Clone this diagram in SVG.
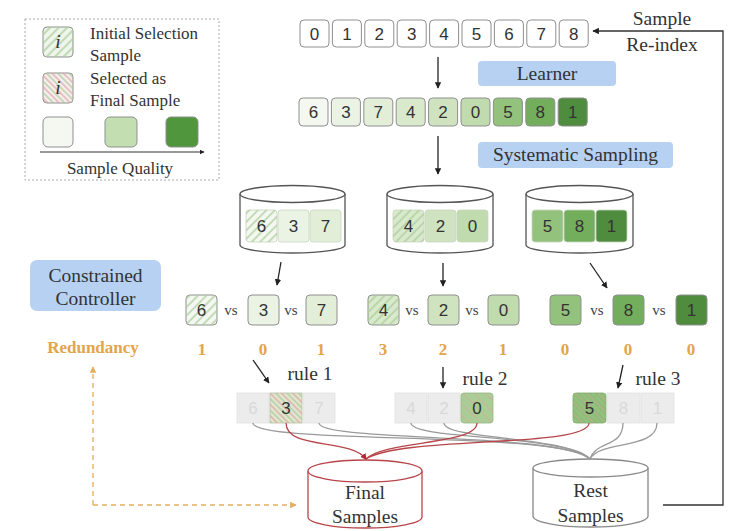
<svg xmlns="http://www.w3.org/2000/svg" width="734" height="531" viewBox="0 0 734 531">
<style>
.bg{fill:#ffffff}
.num{font-family:"Liberation Sans",Arial,sans-serif;font-size:17px;fill:#333;text-anchor:middle}
.lbl{font-family:"Liberation Serif","Times New Roman",serif;font-size:19.5px;fill:#333;text-anchor:middle}
.leg{font-family:"Liberation Serif","Times New Roman",serif;font-size:17px;fill:#333}
.vs{font-family:"Liberation Serif","Times New Roman",serif;font-size:15px;fill:#444;text-anchor:middle}
.red{font-family:"Liberation Serif","Times New Roman",serif;font-size:17px;font-weight:bold;fill:#e2a54a;text-anchor:middle}
.box{stroke:#8f8f8f;stroke-width:1}
.ibox{stroke:#c9d6c0;stroke-width:0.8}
.blue{fill:#b6d1f2}
.cyl{fill:#ffffff;stroke:#555;stroke-width:1.3}
.arr{stroke:#222;stroke-width:1.3;fill:none;marker-end:url(#ah)}
.fade{fill:#ececec;stroke:#e2e2e2;stroke-width:0.8}
.ftxt{font-family:"Liberation Sans",Arial,sans-serif;font-size:17px;fill:#d9d9d9;text-anchor:middle}
.rc{fill:none;stroke:#b8454a;stroke-width:1.3}
.gc{fill:none;stroke:#9a9a9a;stroke-width:1.3}
</style>
<defs>
<marker id="ah" viewBox="0 0 10 10" refX="9" refY="5" markerWidth="5" markerHeight="5" orient="auto"><path d="M0,0 L10,5 L0,10 z" fill="#222"/></marker>
<marker id="ahO" viewBox="0 0 10 10" refX="9" refY="5" markerWidth="5" markerHeight="5" orient="auto"><path d="M0,0 L10,5 L0,10 z" fill="#e5ad5c"/></marker>
<marker id="ahR" viewBox="0 0 10 10" refX="8" refY="5" markerWidth="5" markerHeight="5" orient="auto"><path d="M0,0 L10,5 L0,10 z" fill="#b02a35"/></marker>
<pattern id="hG" patternUnits="userSpaceOnUse" width="6" height="6" patternTransform="rotate(45)"><line x1="1" y1="0" x2="1" y2="6" stroke="#a9cc98" stroke-width="1.3"/></pattern>
<pattern id="hR" patternUnits="userSpaceOnUse" width="8" height="8" patternTransform="rotate(-45)"><line x1="1" y1="0" x2="1" y2="8" stroke="#d9a3a3" stroke-width="1.2"/><line x1="5" y1="0" x2="5" y2="8" stroke="#a6c796" stroke-width="1.2"/></pattern>
</defs>
<rect class="bg" x="0" y="0" width="734" height="531"/>

<g id="legend">
<rect x="25" y="19" width="194" height="161" fill="none" stroke="#aaa" stroke-width="1" stroke-dasharray="2,2"/>
<rect x="43" y="27" width="30" height="30" rx="4" fill="#eef5ea" class="box"/>
<rect x="43" y="27" width="30" height="30" rx="4" fill="url(#hG)"/>
<text x="58" y="48" class="lbl" font-size="17" font-style="italic">i</text>
<text x="90" y="39" class="leg">Initial Selection</text>
<text x="90" y="61" class="leg">Sample</text>
<rect x="43" y="73" width="30" height="30" rx="4" fill="#f7eeee" class="box"/>
<rect x="43" y="73" width="30" height="30" rx="4" fill="url(#hR)"/>
<text x="58" y="94" class="lbl" font-size="17" font-style="italic">i</text>
<text x="90" y="84" class="leg">Selected as</text>
<text x="90" y="106" class="leg">Final Sample</text>
<rect x="43" y="117" width="30" height="30" rx="5" fill="#f4f8f1" class="box"/>
<rect x="105" y="117" width="32" height="30" rx="5" fill="#c3deb1" class="box"/>
<rect x="166" y="117" width="32" height="30" rx="5" fill="#4f963d" class="box"/>
<line x1="40" y1="152" x2="204" y2="152" stroke="#333" stroke-width="1" marker-end="url(#ah)"/>
<text x="120" y="174" class="leg" text-anchor="middle">Sample Quality</text>
</g>

<g id="row-index">
<rect x="300" y="20" width="29" height="27" rx="4" fill="#fff" class="box"/><text x="314.5" y="40" class="num">0</text>
<rect x="332.4" y="20" width="29" height="27" rx="4" fill="#fff" class="box"/><text x="346.9" y="40" class="num">1</text>
<rect x="364.8" y="20" width="29" height="27" rx="4" fill="#fff" class="box"/><text x="379.3" y="40" class="num">2</text>
<rect x="397.2" y="20" width="29" height="27" rx="4" fill="#fff" class="box"/><text x="411.7" y="40" class="num">3</text>
<rect x="429.6" y="20" width="29" height="27" rx="4" fill="#fff" class="box"/><text x="444.1" y="40" class="num">4</text>
<rect x="462" y="20" width="29" height="27" rx="4" fill="#fff" class="box"/><text x="476.5" y="40" class="num">5</text>
<rect x="494.4" y="20" width="29" height="27" rx="4" fill="#fff" class="box"/><text x="508.9" y="40" class="num">6</text>
<rect x="526.8" y="20" width="29" height="27" rx="4" fill="#fff" class="box"/><text x="541.3" y="40" class="num">7</text>
<rect x="559.2" y="20" width="29" height="27" rx="4" fill="#fff" class="box"/><text x="573.7" y="40" class="num">8</text>
</g>

<g id="learner">
<rect x="478" y="61" width="138" height="25" rx="4" class="blue"/>
<text x="547" y="80" class="lbl">Learner</text>
</g>

<g id="row-sorted">
<rect x="299" y="98" width="29" height="28" rx="4" fill="#f4f8f1" class="box"/><text x="313.5" y="118" class="num">6</text>
<rect x="331.4" y="98" width="29" height="28" rx="4" fill="#ebf3e4" class="box"/><text x="345.9" y="118" class="num">3</text>
<rect x="363.8" y="98" width="29" height="28" rx="4" fill="#e3eed9" class="box"/><text x="378.3" y="118" class="num">7</text>
<rect x="396.2" y="98" width="29" height="28" rx="4" fill="#d9e9cc" class="box"/><text x="410.7" y="118" class="num">4</text>
<rect x="428.6" y="98" width="29" height="28" rx="4" fill="#cfe3c0" class="box"/><text x="443.1" y="118" class="num">2</text>
<rect x="461" y="98" width="29" height="28" rx="4" fill="#c0dbad" class="box"/><text x="475.5" y="118" class="num">0</text>
<rect x="493.4" y="98" width="29" height="28" rx="4" fill="#93c27c" class="box"/><text x="507.9" y="118" class="num">5</text>
<rect x="525.8" y="98" width="29" height="28" rx="4" fill="#73ae5d" class="box"/><text x="540.3" y="118" class="num">8</text>
<rect x="558.2" y="98" width="29" height="28" rx="4" fill="#4f8c3d" class="box"/><text x="572.7" y="118" class="num" fill="#1f3a18">1</text>
</g>

<g id="systematic-sampling">
<rect x="478" y="142" width="195" height="26" rx="4" class="blue"/>
<text x="575.5" y="161" class="lbl" font-size="20">Systematic Sampling</text>
</g>

<g id="bucket-1">
<path class="cyl" d="M240,194 L240,245 A52.5,8 0 0 0 345,245 L345,194"/>
<ellipse class="cyl" cx="292.5" cy="194" rx="52.5" ry="8.5"/>
<rect x="246" y="210" width="31" height="32" rx="3" fill="#f4f8f1" class="ibox"/>
<rect x="246" y="210" width="31" height="32" rx="3" fill="url(#hG)"/>
<rect x="278" y="210" width="31" height="32" rx="3" fill="#ebf3e4" class="ibox"/>
<rect x="310" y="210" width="31" height="32" rx="3" fill="#e3eed9" class="ibox"/>
<text x="261.5" y="232" class="num">6</text><text x="293.5" y="232" class="num">3</text><text x="325.5" y="232" class="num">7</text>
</g>

<g id="bucket-2">
<path class="cyl" d="M387,194 L387,245 A53,8 0 0 0 493,245 L493,194"/>
<ellipse class="cyl" cx="440" cy="194" rx="53" ry="8.5"/>
<rect x="393" y="210" width="31" height="32" rx="3" fill="#d9e9cc" class="ibox"/>
<rect x="393" y="210" width="31" height="32" rx="3" fill="url(#hG)"/>
<rect x="425" y="210" width="31" height="32" rx="3" fill="#cfe3c0" class="ibox"/>
<rect x="457" y="210" width="31" height="32" rx="3" fill="#c0dbad" class="ibox"/>
<text x="408.5" y="232" class="num">4</text><text x="440.5" y="232" class="num">2</text><text x="472.5" y="232" class="num">0</text>
</g>

<g id="bucket-3">
<path class="cyl" d="M526,194 L526,245 A53.5,8 0 0 0 633,245 L633,194"/>
<ellipse class="cyl" cx="579.5" cy="194" rx="53.5" ry="8.5"/>
<rect x="532" y="210" width="31" height="32" rx="3" fill="#93c27c" class="ibox"/>
<rect x="564" y="210" width="31" height="32" rx="3" fill="#73ae5d" class="ibox"/>
<rect x="596" y="210" width="31" height="32" rx="3" fill="#4f8c3d" class="ibox"/>
<text x="547.5" y="232" class="num">5</text><text x="579.5" y="232" class="num">8</text><text x="611.5" y="232" class="num" fill="#1f3a18">1</text>
</g>

<g id="constrained-controller">
<rect x="30" y="260" width="131" height="51" rx="7" class="blue"/>
<text x="95.5" y="282" class="lbl" font-size="20">Constrained</text>
<text x="95.5" y="305" class="lbl" font-size="20">Controller</text>
</g>

<g id="compare-1">
<rect x="186" y="295" width="31" height="30" rx="4" fill="#f4f8f1" class="box"/>
<rect x="186" y="295" width="31" height="30" rx="4" fill="url(#hG)"/>
<text x="201.5" y="316" class="num">6</text>
<text x="231" y="315" class="vs">vs</text>
<rect x="248" y="295" width="31" height="30" rx="4" fill="#ebf3e4" class="box"/>
<text x="263.5" y="316" class="num">3</text>
<text x="291" y="315" class="vs">vs</text>
<rect x="306" y="295" width="31" height="30" rx="4" fill="#e3eed9" class="box"/>
<text x="321.5" y="316" class="num">7</text>
</g>
<g id="compare-2">
<rect x="368" y="295" width="31" height="30" rx="4" fill="#d9e9cc" class="box"/>
<rect x="368" y="295" width="31" height="30" rx="4" fill="url(#hG)"/>
<text x="383.5" y="316" class="num">4</text>
<text x="412" y="315" class="vs">vs</text>
<rect x="428" y="295" width="31" height="30" rx="4" fill="#cfe3c0" class="box"/>
<text x="443.5" y="316" class="num">2</text>
<text x="472" y="315" class="vs">vs</text>
<rect x="488" y="295" width="31" height="30" rx="4" fill="#c0dbad" class="box"/>
<text x="503.5" y="316" class="num">0</text>
</g>
<g id="compare-3">
<rect x="550" y="295" width="31" height="30" rx="4" fill="#93c27c" class="box"/>
<text x="565.5" y="316" class="num">5</text>
<text x="597" y="315" class="vs">vs</text>
<rect x="613" y="295" width="31" height="30" rx="4" fill="#73ae5d" class="box"/>
<text x="628.5" y="316" class="num">8</text>
<text x="659" y="315" class="vs">vs</text>
<rect x="676" y="295" width="31" height="30" rx="4" fill="#4f8c3d" class="box"/>
<text x="691.5" y="316" class="num" fill="#1f3a18">1</text>
</g>

<g id="redundancy">
<text x="93" y="353" class="red" font-size="20" fill="#d69a36">Redundancy</text>
<text x="202" y="355" class="red">1</text>
<text x="263" y="355" class="red">0</text>
<text x="321" y="355" class="red">1</text>
<text x="383" y="355" class="red">3</text>
<text x="443" y="355" class="red">2</text>
<text x="503" y="355" class="red">1</text>
<text x="565" y="355" class="red">0</text>
<text x="628" y="355" class="red">0</text>
<text x="691" y="355" class="red">0</text>
</g>

<g id="rule-labels">
<text x="310" y="380" class="lbl">rule 1</text>
<text x="485" y="385" class="lbl">rule 2</text>
<text x="658" y="385" class="lbl">rule 3</text>
</g>

<g id="selected-1">
<rect x="237" y="393" width="32" height="30" class="fade"/><text x="253" y="414" class="ftxt">6</text>
<rect x="270" y="393" width="32" height="30" fill="#e2e7cf" stroke="#b8bfa5" stroke-width="0.8"/>
<rect x="270" y="393" width="32" height="30" fill="url(#hR)"/>
<text x="286" y="414" class="num">3</text>
<rect x="303" y="393" width="32" height="30" class="fade"/><text x="319" y="414" class="ftxt">7</text>
</g>
<g id="selected-2">
<rect x="395" y="393" width="32" height="30" class="fade"/><text x="411" y="414" class="ftxt">4</text>
<rect x="428" y="393" width="32" height="30" class="fade"/><text x="444" y="414" class="ftxt">2</text>
<rect x="461" y="393" width="32" height="30" rx="3" fill="#a9cf94" stroke="#8fb57c" stroke-width="0.8"/>
<rect x="461" y="393" width="32" height="30" rx="3" fill="url(#hR)" opacity="0.7"/>
<text x="477" y="414" class="num">0</text>
</g>
<g id="selected-3">
<rect x="573" y="393" width="33" height="30" rx="3" fill="#8dbd76" stroke="#7aa866" stroke-width="0.8"/>
<rect x="573" y="393" width="33" height="30" rx="3" fill="url(#hR)" opacity="0.6"/>
<text x="589.5" y="414" class="num">5</text>
<rect x="607" y="393" width="33" height="30" class="fade"/><text x="623.5" y="414" class="ftxt">8</text>
<rect x="641" y="393" width="33" height="30" class="fade"/><text x="657.5" y="414" class="ftxt">1</text>
</g>

<g id="final-samples">
<path d="M308,471 L308,517 A57,11 0 0 0 422,517 L422,471" fill="#fff" stroke="#b8454a" stroke-width="1.3"/>
<ellipse cx="365" cy="471" rx="57" ry="11" fill="#fff" stroke="#b8454a" stroke-width="1.3"/>
<text x="365" y="499" class="lbl" font-size="20">Final</text>
<text x="365" y="523" class="lbl" font-size="20">Samples</text>
</g>

<g id="rest-samples">
<path d="M533,468 L533,516 A57.5,11 0 0 0 648,516 L648,468" fill="#fff" stroke="#888" stroke-width="1.3"/>
<ellipse cx="590.5" cy="468" rx="57.5" ry="9" fill="#fff" stroke="#888" stroke-width="1.3"/>
<text x="590.5" y="497" class="lbl" font-size="20">Rest</text>
<text x="590.5" y="522" class="lbl" font-size="20">Samples</text>
</g>

<g id="connectors">
<line class="arr" x1="438" y1="57" x2="438" y2="88"/>
<line class="arr" x1="438" y1="136" x2="438" y2="174"/>
<line class="arr" x1="281" y1="262" x2="277" y2="285"/>
<line class="arr" x1="443" y1="263" x2="443" y2="286"/>
<line class="arr" x1="590" y1="263" x2="607" y2="288"/>
<line class="arr" x1="253" y1="360" x2="269" y2="383"/>
<line class="arr" x1="443" y1="367" x2="443" y2="388"/>
<line class="arr" x1="623" y1="365" x2="618" y2="388"/>
<path d="M663,505 L723,505 L723,31 L593,31" fill="none" stroke="#333" stroke-width="1.3" marker-end="url(#ah)"/>
<text x="662" y="25" class="lbl" font-size="18">Sample</text>
<text x="662" y="51" class="lbl" font-size="18">Re-index</text>
<path d="M93,505 L93,367" fill="none" stroke="#e5ad5c" stroke-width="1.3" stroke-dasharray="5,4" marker-end="url(#ahO)"/>
<path d="M93,505 L296,505" fill="none" stroke="#e5ad5c" stroke-width="1.3" stroke-dasharray="5,4" marker-end="url(#ahO)"/>
<path class="gc" d="M253,423 C253,445 560,430 590,459"/>
<path class="gc" d="M319,423 C319,442 560,432 590,459"/>
<path class="gc" d="M411,423 C411,440 565,434 590,459"/>
<path class="gc" d="M444,423 C444,440 570,436 590,459"/>
<path class="gc" d="M623,423 C623,448 596,440 590,459"/>
<path class="gc" d="M657,423 C657,450 600,440 590,459"/>
<path class="rc" d="M286,423 C286,450 350,438 366,459" marker-end="url(#ahR)"/>
<path class="rc" d="M477,423 C477,445 385,440 366,459"/>
<path class="rc" d="M589,423 C589,448 400,436 366,459"/>
</g>
</svg>
